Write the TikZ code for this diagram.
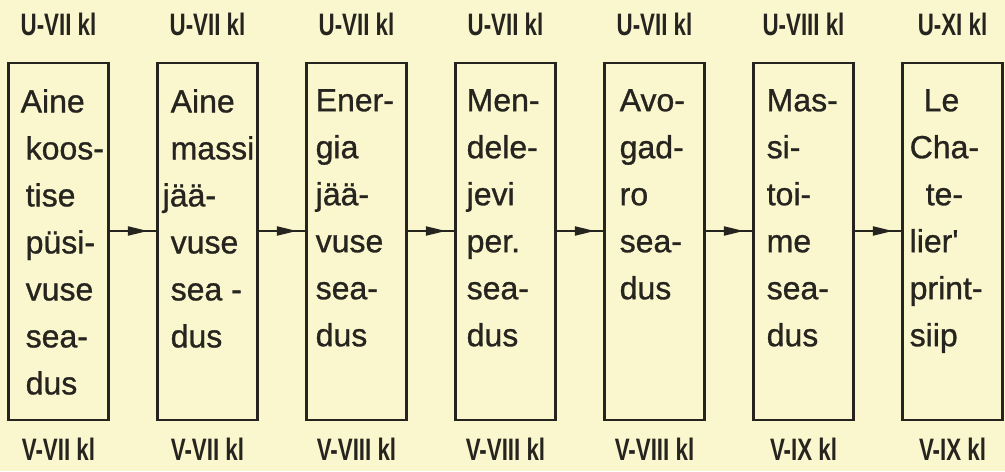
\documentclass[tikz,border=0pt]{standalone}
\usepackage{fontspec}
\setmainfont{Liberation Sans}[FakeBold=0.9]
\newfontfamily\gradefont[FakeStretch=0.72]{Liberation Sans}
\usetikzlibrary{arrows.meta, positioning, decorations.markings}
\definecolor{paper}{RGB}{250,247,206}
\definecolor{ink}{RGB}{38,36,30}

\begin{document}
\begin{tikzpicture}[
    x=0.5pt, y=0.5pt,
    node distance=74.5pt,
    law/.style={rectangle, draw=ink, line width=1.2pt, minimum width=50pt, minimum height=178.5pt, inner sep=0pt},
    lawtext/.style={anchor=north west, align=left, inner sep=0pt, text=ink, font=\fontsize{16}{23.5}\selectfont},
    grade/.style={anchor=base, inner sep=0pt, text=ink, font=\gradefont\bfseries\fontsize{15.5}{16}\selectfont},
    arrow/.style={color=ink, line width=1pt, postaction={decorate},
        decoration={markings, mark=at position 0.82 with {\arrow{Triangle[length=10pt, width=4.5pt]}}}}
]

% Paper
\fill[paper] (0,0) rectangle (1005,471);
\useasboundingbox (0,0) rectangle (1005,471);

% Define boxes
\node[law] (b1) at (58.5,229.5) {};
\node[law, right of=b1] (b2) {};
\node[law, right of=b2] (b3) {};
\node[law, right of=b3] (b4) {};
\node[law, right of=b4] (b5) {};
\node[law, right of=b5] (b6) {};
\node[law, right of=b6] (b7) {};

% Texts inside the boxes
\node[lawtext] (t1) at ([xshift=9pt, yshift=-13.5pt]b1.north west) {\hspace{-2.5pt}Aine\\koos-\\tise\\püsi-\\vuse\\sea-\\dus};
\node[lawtext] (t2) at ([xshift=7pt, yshift=-13.5pt]b2.north west) {Aine\\massi\\\hspace{-4pt}jää-\\vuse\\sea -\\dus};
\node[lawtext] (t3) at ([xshift=5pt, yshift=-13.5pt]b3.north west) {Ener-\\gia\\jää-\\vuse\\sea-\\dus};
\node[lawtext] (t4) at ([xshift=6pt, yshift=-13.5pt]b4.north west) {Men-\\dele-\\jevi\\per.\\sea-\\dus};
\node[lawtext] (t5) at ([xshift=8pt, yshift=-13.5pt]b5.north west) {Avo-\\gad-\\ro\\sea-\\dus};
\node[lawtext] (t6) at ([xshift=7pt, yshift=-13.5pt]b6.north west) {Mas-\\si-\\toi-\\me\\sea-\\dus};
\node[lawtext] (t7) at ([xshift=4pt, yshift=-13.5pt]b7.north west) {\hspace{7pt}Le\\Cha-\\\hspace{8pt}te-\\lier\textquotesingle\\print-\\siip};

% Grades above
\node[grade] (u1) at ([yshift=13pt]b1.north) {U-VII kl};
\node[grade] (u2) at ([yshift=13pt]b2.north) {U-VII kl};
\node[grade] (u3) at ([yshift=13pt]b3.north) {U-VII kl};
\node[grade] (u4) at ([yshift=13pt]b4.north) {U-VII kl};
\node[grade] (u5) at ([yshift=13pt]b5.north) {U-VII kl};
\node[grade] (u6) at ([yshift=13pt]b6.north) {U-VIII kl};
\node[grade] (u7) at ([yshift=13pt]b7.north) {U-XI kl};

% Grades below
\node[grade] (v1) at ([yshift=-19.5pt]b1.south) {V-VII kl};
\node[grade] (v2) at ([yshift=-19.5pt]b2.south) {V-VII kl};
\node[grade] (v3) at ([yshift=-19.5pt]b3.south) {V-VIII kl};
\node[grade] (v4) at ([yshift=-19.5pt]b4.south) {V-VIII kl};
\node[grade] (v5) at ([yshift=-19.5pt]b5.south) {V-VIII kl};
\node[grade] (v6) at ([yshift=-19.5pt]b6.south) {V-IX kl};
\node[grade] (v7) at ([yshift=-19.5pt]b7.south) {V-IX kl};

% Arrows between the boxes
\draw[arrow] ([yshift=5.25pt]b1.east) -- ([yshift=5.25pt]b2.west);
\draw[arrow] ([yshift=5.25pt]b2.east) -- ([yshift=5.25pt]b3.west);
\draw[arrow] ([yshift=5.25pt]b3.east) -- ([yshift=5.25pt]b4.west);
\draw[arrow] ([yshift=5.25pt]b4.east) -- ([yshift=5.25pt]b5.west);
\draw[arrow] ([yshift=5.25pt]b5.east) -- ([yshift=5.25pt]b6.west);
\draw[arrow] ([yshift=5.25pt]b6.east) -- ([yshift=5.25pt]b7.west);

\end{tikzpicture}
\end{document}
